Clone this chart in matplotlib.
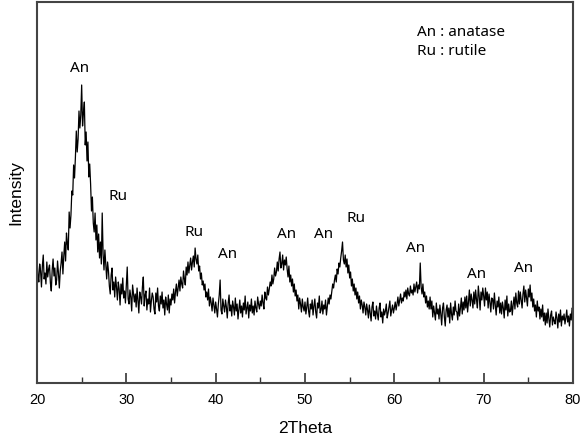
import numpy as np
import matplotlib
matplotlib.use("Agg")
import matplotlib.pyplot as plt
from matplotlib.ticker import MultipleLocator

# 2theta from 20 to 80 in 0.1 deg steps, intensity (arb. units)
two_theta = np.round(np.arange(20.0, 80.0001, 0.1), 1)

intensity = [
    125, 108, 101, 119, 112, 96, 117, 128, 104, 110,   # 20
    99, 121, 106, 114, 118, 100, 92, 113, 124, 107,    # 21
    115, 98, 103, 122, 110, 95, 112, 120, 131, 109,    # 22
    127, 141, 122, 150, 139, 133, 171, 155, 168, 192,  # 23
    188, 218, 205, 226, 252, 231, 244, 272, 255, 268,  # 24
    298, 257, 270, 281, 238, 251, 222, 241, 206, 219,  # 25
    199, 172, 186, 160, 151, 170, 143, 158, 131, 149,  # 26
    125, 141, 119, 170, 129, 113, 133, 118, 104, 121,  # 27
    112, 97, 89, 108, 115, 93, 101, 86, 106, 96,       # 28
    83, 101, 94, 78, 99, 89, 105, 85, 92, 80,          # 29
    97, 116, 84, 79, 93, 86, 72, 98, 90, 81,           # 30
    89, 76, 95, 83, 70, 91, 86, 79, 96, 106,           # 31
    77, 88, 92, 73, 84, 79, 95, 71, 82, 90,            # 32
    86, 74, 69, 90, 81, 95, 77, 72, 87, 79,            # 33
    91, 75, 83, 68, 86, 79, 73, 88, 70, 84,            # 34
    78, 89, 83, 94, 80, 91, 99, 87, 95, 103,           # 35
    92, 106, 99, 95, 112, 104, 98, 116, 108, 121,      # 36
    110, 118, 125, 113, 121, 127, 116, 135, 124, 119,  # 37
    128, 112, 117, 104, 110, 98, 102, 93, 99, 86,      # 38
    91, 83, 94, 77, 86, 80, 72, 85, 78, 70,            # 39
    81, 74, 66, 79, 88, 103, 73, 69, 84, 77,           # 40
    71, 83, 76, 65, 80, 88, 72, 78, 67, 82,            # 41
    76, 68, 85, 72, 79, 64, 74, 83, 70, 77,            # 42
    66, 80, 73, 87, 69, 75, 81, 65, 78, 72,            # 43
    84, 70, 77, 68, 82, 75, 71, 86, 79, 74,            # 44
    82, 77, 88, 80, 74, 91, 85, 83, 96, 88,            # 45
    94, 101, 97, 108, 99, 104, 115, 107, 111, 121,     # 46
    112, 124, 131, 115, 119, 128, 113, 123, 118, 126,  # 47
    114, 106, 117, 101, 108, 97, 104, 91, 99, 87,      # 48
    93, 82, 88, 74, 85, 79, 71, 84, 76, 72,            # 49
    81, 69, 76, 85, 72, 66, 79, 74, 83, 68,            # 50
    77, 84, 71, 65, 80, 75, 87, 70, 73, 82,            # 51
    69, 78, 74, 83, 68, 76, 85, 79, 88, 84,            # 52
    92, 99, 95, 103, 108, 101, 114, 109, 120, 116,     # 53
    125, 132, 141, 123, 119, 128, 116, 124, 110, 118,  # 54
    105, 111, 97, 104, 92, 99, 88, 95, 84, 91,         # 55
    80, 87, 74, 83, 78, 70, 81, 76, 68, 79,            # 56
    73, 65, 78, 70, 62, 76, 81, 67, 72, 64,            # 57
    77, 69, 63, 75, 80, 66, 71, 60, 74, 68,            # 58
    72, 79, 65, 70, 76, 82, 67, 73, 78, 70,            # 59
    75, 81, 73, 79, 86, 77, 83, 89, 80, 85,            # 60
    82, 91, 86, 93, 84, 95, 89, 87, 97, 90,            # 61
    93, 88, 99, 91, 96, 101, 90, 98, 94, 120,          # 62
    96, 89, 99, 86, 91, 80, 87, 76, 82, 74,            # 63
    86, 74, 82, 66, 77, 70, 63, 80, 69, 74,            # 64
    64, 78, 69, 58, 75, 80, 66, 57, 73, 78,            # 65
    66, 75, 60, 80, 69, 63, 76, 68, 82, 72,            # 66
    71, 63, 79, 67, 75, 85, 69, 81, 73, 86,            # 67
    75, 87, 71, 81, 93, 77, 89, 83, 75, 91,            # 68
    79, 93, 83, 75, 97, 87, 73, 91, 83, 95,            # 69
    87, 77, 95, 83, 91, 75, 89, 81, 71, 85,            # 70
    84, 74, 90, 78, 68, 82, 76, 86, 70, 80,            # 71
    69, 81, 75, 65, 83, 73, 87, 67, 79, 71,            # 72
    72, 82, 68, 78, 86, 74, 90, 80, 76, 92,            # 73
    79, 91, 83, 75, 89, 97, 81, 93, 85, 77,            # 74
    94, 86, 98, 82, 90, 76, 84, 72, 78, 66,            # 75
    82, 72, 76, 64, 74, 66, 78, 62, 70, 58,            # 76
    70, 60, 74, 64, 56, 68, 72, 58, 66, 62,            # 77
    59, 71, 65, 55, 69, 61, 73, 57, 67, 63,            # 78
    69, 59, 65, 73, 61, 67, 57, 69, 63, 75,            # 79
    74,                                                # 80
]

# peak labels placed above the reflections
peak_labels = ["An", "Ru", "Ru", "An", "An", "An", "Ru", "An", "An", "An"]
peak_x = [24.8, 29.1, 37.6, 41.3, 47.9, 52.1, 55.7, 62.4, 69.2, 74.5]
peak_y = [315, 186, 150, 129, 149, 149, 164, 135, 109, 114]

legend_lines = ["An : anatase", "Ru : rutile"]

fig = plt.figure(figsize=(5.81, 4.37), dpi=100)
ax = fig.add_axes([37 / 581, 54 / 437, 536 / 581, 381 / 437])

ax.plot(two_theta, intensity, color="black", linewidth=0.9)

label_font = ["Noto Sans", "DejaVu Sans"]
for lab, x, y in zip(peak_labels, peak_x, peak_y):
    ax.text(x, y, lab, ha="center", va="center", fontsize=11, family=label_font)

ax.text(0.709, 0.92, legend_lines[0], transform=ax.transAxes, fontsize=11,
        va="center", family=label_font)
ax.text(0.709, 0.87, legend_lines[1], transform=ax.transAxes, fontsize=11,
        va="center", family=label_font)

ax.set_xlim(20, 80)
ax.set_ylim(0, 381)
ax.xaxis.set_major_locator(MultipleLocator(10))
ax.xaxis.set_minor_locator(MultipleLocator(5))
ax.tick_params(axis="x", which="major", direction="in", length=7, width=1.2,
               labelsize=10.5, pad=7, colors="#333333", labelcolor="black")
ax.tick_params(axis="x", which="minor", direction="in", length=4, width=1.0,
               colors="#333333")
ax.set_yticks([])
for lbl in ax.get_xticklabels():
    lbl.set_family("Liberation Sans")

for sp in ax.spines.values():
    sp.set_color("#444444")
    sp.set_linewidth(1.5)

ax.set_xlabel("2Theta", fontsize=12.5, family="Liberation Sans", labelpad=10)
ax.set_ylabel("Intensity", fontsize=12.5, family="Liberation Sans", labelpad=10)

fig.savefig("out.png", dpi=100)
